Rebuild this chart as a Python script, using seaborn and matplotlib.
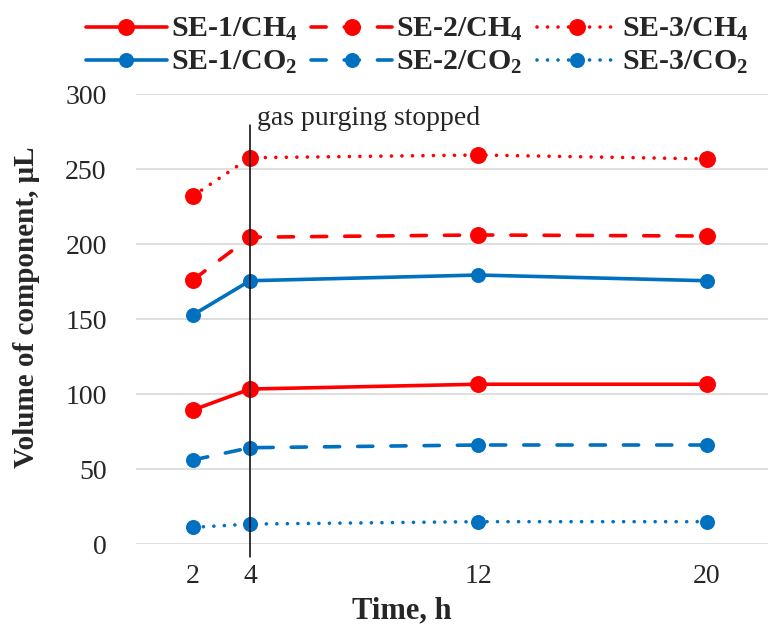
import matplotlib
matplotlib.use("Agg")
import matplotlib.pyplot as plt
import pandas as pd
import seaborn as sns

time_h = [2, 4, 12, 20]
se1_ch4 = [89.5, 103.5, 106.7, 106.7]
se2_ch4 = [176.2, 204.7, 206.2, 205.5]
se3_ch4 = [232.2, 257.7, 259.5, 256.9]
se1_co2 = [152.9, 175.7, 179.5, 175.7]
se2_co2 = [56.2, 64.4, 66.2, 66.2]
se3_co2 = [11.3, 13.5, 15.1, 15.1]
samples = ["SE-1", "SE-2", "SE-3"]

rows = []
for gas, series in [("CH4", [se1_ch4, se2_ch4, se3_ch4]), ("CO2", [se1_co2, se2_co2, se3_co2])]:
    for s, vals in zip(samples, series):
        for t, v in zip(time_h, vals):
            rows.append({"gas": gas, "sample": s, "time": t, "vol": v})
df = pd.DataFrame(rows)

sns.set_style("white")
plt.rcParams["font.family"] = ["Liberation Serif", "DejaVu Serif"]
plt.rcParams["mathtext.fontset"] = "custom"
plt.rcParams["mathtext.rm"] = "Liberation Serif"
plt.rcParams["mathtext.bf"] = "Liberation Serif:bold"
plt.rcParams["mathtext.default"] = "bf"

fig = plt.figure(figsize=(7.68, 6.33), dpi=100)
ax = fig.add_axes([135.8 / 768, 0.1401, 1 - 135.8 / 768, 0.711])

dash_map = {"SE-1": "", "SE-2": (4.2, 5.0), "SE-3": (0.01, 2.9)}
colors = {"CH4": "#FF0000", "CO2": "#0070C0"}
msize = {"CH4": 12.2, "CO2": 10.8}

for gas in ["CH4", "CO2"]:
    sns.lineplot(data=df[df["gas"] == gas], x="time", y="vol", style="sample",
                 dashes=dash_map, markers={s: "o" for s in samples},
                 color=colors[gas], linewidth=2.6, markersize=msize[gas],
                 markeredgewidth=0, markeredgecolor=colors[gas],
                 dash_capstyle="round", legend=False, ax=ax)

lines = ax.get_lines()[:6]

# marker line where gas purging stopped
ax.plot([4, 4], [-8.5, 279.5], color="black", linewidth=1.1, clip_on=False, zorder=5)
ax.text(4.25, 284, "gas purging stopped", fontsize=20, va="center", ha="left")

ax.set_xlim(0, 22.15)
ax.set_ylim(0, 300)
ax.set_xticks(time_h)
ax.set_yticks(range(0, 301, 50))
ax.grid(axis="y", color="#D9D9D9", linewidth=1.2)
ax.set_axisbelow(True)
for sp in ax.spines.values():
    sp.set_visible(False)
ax.tick_params(axis="both", length=0, labelsize=20)
ax.tick_params(axis="y", pad=21)
ax.tick_params(axis="x", pad=14)
ax.set_xlabel("")
ax.set_ylabel("")

fig.text(402 / 768, 1 - 611 / 633, "Time, h", fontsize=22, fontweight="bold", ha="center", va="center")
fig.text(27 / 768, 1 - 307 / 633, "Volume of component, μL", fontsize=21, fontweight="bold",
         ha="center", va="center", rotation=90)

labels = [r"SE-1/CH$_4$", r"SE-1/CO$_2$", r"SE-2/CH$_4$", r"SE-2/CO$_2$", r"SE-3/CH$_4$", r"SE-3/CO$_2$"]
handles = [lines[0], lines[3], lines[1], lines[4], lines[2], lines[5]]
fig.legend(handles, labels, ncol=3, loc="upper left", bbox_to_anchor=(86 / 768, 1 - 16 / 633),
           frameon=False, prop={"size": 21.5, "weight": "bold"}, handlelength=2.7,
           handletextpad=0.15, columnspacing=0.45, borderpad=0, borderaxespad=0,
           labelspacing=0.2, numpoints=1)

fig.savefig("out.png", dpi=100)
